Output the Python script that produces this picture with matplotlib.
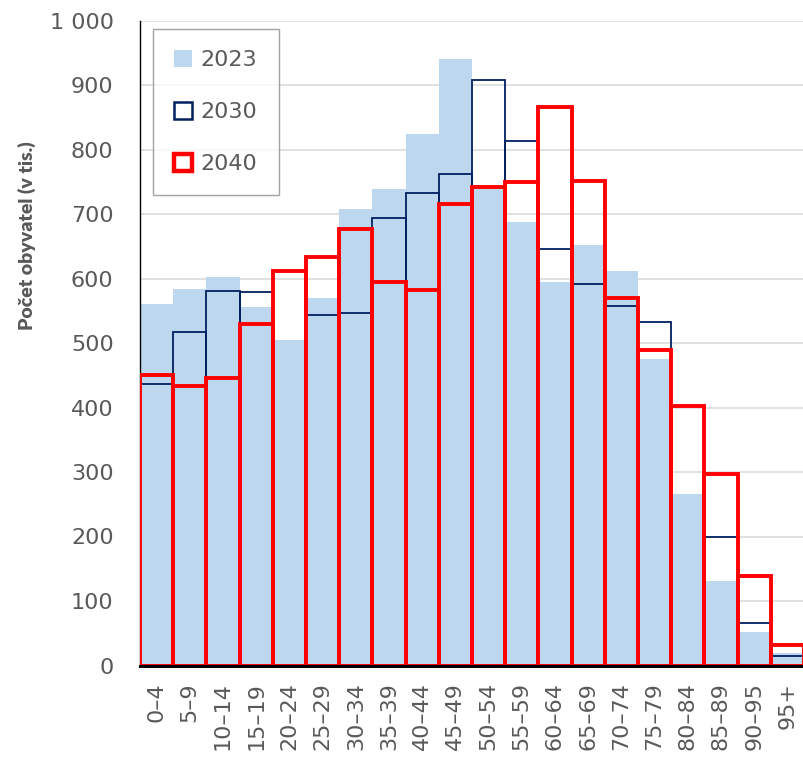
import matplotlib
matplotlib.use("Agg")
import matplotlib.pyplot as plt
from matplotlib.patches import Patch
import numpy as np

categories = ["0–4", "5–9", "10–14", "15–19", "20–24", "25–29", "30–34", "35–39",
              "40–44", "45–49", "50–54", "55–59", "60–64", "65–69", "70–74",
              "75–79", "80–84", "85–89", "90–95", "95+"]
pop_2023 = [561, 583, 603, 556, 504, 570, 708, 738, 824, 940,
            739, 688, 595, 652, 611, 475, 266, 131, 52, 20]
pop_2030 = [436, 517, 580, 579, 611, 543, 546, 694, 733, 762,
            908, 813, 645, 592, 557, 533, 402, 200, 66, 15]
pop_2040 = [450, 434, 445, 530, 611, 633, 676, 595, 582, 716,
            742, 750, 866, 751, 570, 489, 402, 297, 139, 32]
yticks = [0, 100, 200, 300, 400, 500, 600, 700, 800, 900, 1000]
ytick_labels = ["0", "100", "200", "300", "400", "500", "600", "700", "800", "900", "1 000"]
series_labels = ["2023", "2030", "2040"]

C_BLUE = "#BDD7EE"
C_NAVY = "#002060"
C_RED = "#FF0000"
C_TEXT = "#595959"

plt.rcParams['font.family'] = ['DejaVu Sans']

W, H = 804, 761
fig = plt.figure(figsize=(W / 100, H / 100), dpi=100)
ax = fig.add_axes([140 / W, 1 - 665.5 / H, (804 - 140) / W, (665.5 - 20.5) / H])

x = np.arange(len(categories))
ax.bar(x, pop_2023, width=1.0, color=C_BLUE, linewidth=0, zorder=2)
ax.bar(x, pop_2030, width=1.0, fill=False, edgecolor=C_NAVY, linewidth=1.3, zorder=3)
ax.bar(x, pop_2040, width=1.0, fill=False, edgecolor=C_RED, linewidth=2.8, zorder=4)

ax.set_xlim(-0.5, len(categories) - 0.5)
ax.set_ylim(0, 1000)
ax.set_yticks(yticks)
ax.set_yticklabels(ytick_labels)
ax.set_xticks(x)
ax.set_xticklabels(categories, rotation=90, va="top", ha="center")
ax.tick_params(axis="both", length=0, labelsize=16, labelcolor=C_TEXT)
ax.tick_params(axis="y", pad=19)
ax.tick_params(axis="x", pad=12)

ax.yaxis.grid(True, color="#D9D9D9", linewidth=1.1, zorder=0)
ax.set_axisbelow(True)
for s in ["top", "right"]:
    ax.spines[s].set_visible(False)
ax.spines["left"].set_color("black")
ax.spines["left"].set_linewidth(1.0)
ax.spines["bottom"].set_color("black")
ax.spines["bottom"].set_linewidth(2.2)
ax.spines["bottom"].set_zorder(6)

fig.text(26.5 / W, 1 - 236 / H, "Počet obyvatel (v tis.)", rotation=90,
         ha="center", va="center", fontsize=14, fontweight="heavy",
         color=C_TEXT, family=["Lato", "DejaVu Sans"])

handles = [
    Patch(facecolor=C_BLUE, edgecolor="none", label=series_labels[0]),
    Patch(facecolor="white", edgecolor=C_NAVY, linewidth=1.8, label=series_labels[1]),
    Patch(facecolor="white", edgecolor=C_RED, linewidth=3.2, label=series_labels[2]),
]
leg = ax.legend(handles=handles, loc="upper left",
                bbox_to_anchor=(13 / 664, 1 - 8.5 / 645), borderaxespad=0,
                fontsize=16, frameon=True, fancybox=False, edgecolor="#8C8C8C",
                handlelength=0.8, handleheight=0.8, handletextpad=0.4,
                labelspacing=1.42, borderpad=0.95, labelcolor=C_TEXT)
leg.get_frame().set_linewidth(1.0)
leg.set_zorder(10)

fig.savefig("out.png", dpi=100)
